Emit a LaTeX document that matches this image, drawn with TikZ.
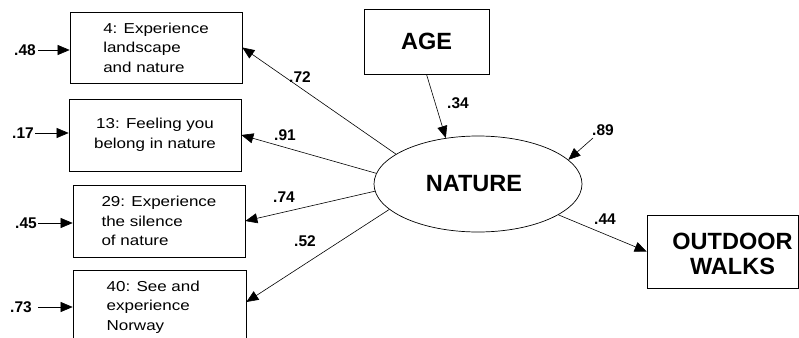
\documentclass[tikz,border=0pt]{standalone}
\usepackage{fontspec}
\setmainfont{Liberation Sans}
\newfontfamily\boxfont[FakeStretch=1.18]{Liberation Sans}
\usetikzlibrary{arrows.meta,shapes.geometric}
\begin{document}
\begin{tikzpicture}[x=1pt,y=-1pt,
  every node/.style={inner sep=0pt},
  item/.style={draw,line width=0.7pt,minimum width=172pt,minimum height=72pt,
    font=\boxfont\fontsize{14.4}{19.5}\selectfont,align=left},
  bigbox/.style={draw,line width=0.7pt,font=\bfseries\fontsize{23.5}{25}\selectfont,align=center},
  lab/.style={font=\bfseries\fontsize{15.5}{16}\selectfont},
  arr/.style={line width=0.6pt,-{Triangle[length=12pt,width=10pt]}}]
\useasboundingbox (0,0) rectangle (799,337);
\clip (0,0) rectangle (799,337);
% indicator boxes
\node[item,minimum width=172pt,minimum height=71pt] (b1) at (156,47.5) {4: Experience\\landscape\\and nature};
\node[item,align=center] (b2) at (155,135) {13: Feeling you\\belong in nature};
\node[item] (b3) at (159,221) {29: Experience\\the silence\\of nature};
\node[item,minimum width=173pt,minimum height=74pt] (b4) at (159.5,307) {40: See and\\experience\\Norway\phantom{nature}};
% age, nature, outdoor
\node[bigbox,minimum width=125pt,minimum height=65pt] (age) at (426.5,41.5) {AGE};
\node[draw,ellipse,line width=0.7pt,minimum width=208pt,minimum height=96pt] (nat) at (478,184) {};
\node[font=\bfseries\fontsize{23.5}{25}\selectfont] (natt) at (474,184) {NATURE};
\node[draw,line width=0.7pt,minimum width=151pt,minimum height=73pt] (out) at (722.5,251.5) {};
\node[font=\bfseries\fontsize{23.5}{24.5}\selectfont,align=center] (outt) at (732.5,254) {OUTDOOR\\WALKS};
% error terms
\node[lab] (l48) at (25,50) {.48};
\node[lab] (l17) at (23,133) {.17};
\node[lab] (l45) at (26,223) {.45};
\node[lab] (l73) at (21,307) {.73};
\coordinate (e48) at (38,50);
\coordinate (e17) at (35,133);
\coordinate (e45) at (38,223);
\coordinate (e73) at (38,307);
\draw[arr] (e48) -- (e48 -| b1.west);
\draw[arr] (e17) -- (e17 -| b2.west);
\draw[arr] (e45) -- (e45 -| b3.west);
\draw[arr] (e73) -- (e73 -| b4.west);
% loadings
\draw[arr] (nat.160) -- (b1.east);
\draw[arr] (nat.174) -- (b2.east);
\draw[arr] (nat.184) -- (b3.east);
\draw[arr] (nat.196) -- ([yshift=5pt]b4.east);
\draw[arr] (age.south) -- (nat.125);
\coordinate (e89) at (593,138);
\draw[arr] (e89) -- (nat.15);
\draw[arr] (nat.339) -- (out.west);
% path labels
\node[lab] at (300,77) {.72};
\node[lab] at (285,135) {.91};
\node[lab] at (284,197) {.74};
\node[lab] at (305,241) {.52};
\node[lab] at (458,103) {.34};
\node[lab] at (603,130) {.89};
\node[lab] at (605,219.5) {.44};
\end{tikzpicture}
\end{document}
